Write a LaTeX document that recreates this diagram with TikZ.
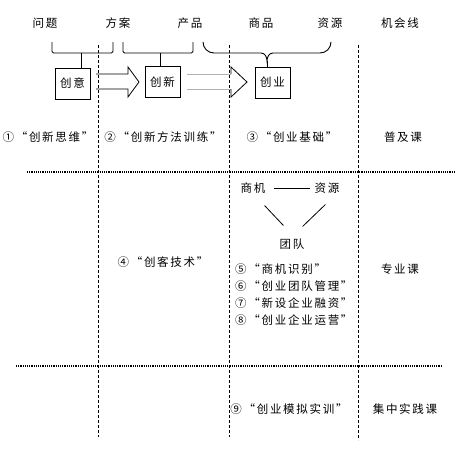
\documentclass[tikz,border=0pt]{standalone}
\usepackage{fontspec}
\newfontfamily\cjk[LetterSpace=15]{Noto Sans CJK SC}
\usetikzlibrary{positioning}

\begin{document}
\begin{tikzpicture}[
        x=1pt, y=-1pt,
        every node/.style={font=\cjk\fontsize{11.5}{13}\selectfont, inner sep=1pt},
        box/.style={draw, line width=0.8pt, minimum width=35pt, minimum height=31pt, inner sep=0pt},
        item/.style={anchor=north west},
        grid/.style={line width=0.9pt, dash pattern=on 3pt off 2pt},
        sep/.style={line width=1.2pt, dash pattern=on 1.2pt off 1pt},
        brace/.style={line width=0.9pt},
        blockarrow/.style={line width=0.8pt}
    ]
    \useasboundingbox (0,0) rectangle (456,453);

    % opportunity line
    \node (wenti) at (45,23) {问题};
    \node (fangan) at (118,23) {方案};
    \node (chanpin) at (190,23) {产品};
    \node (shangpin) at (261,23) {商品};
    \node (ziyuan) at (330,23) {资源};
    \node (jihui) at (400,23) {机会线};

    % grid
    \draw[grid] (98,45) -- (98,437);
    \draw[grid] (229,45) -- (229,437);
    \draw[grid] (358,45) -- (358,440);
    \draw[sep] (27,172) -- (456,172);
    \draw[sep] (16,366) -- (442,366);

    % stages
    \node[box] (chuangyi) at (72.5,83.5) {创意};
    \node[box] (chuangxin) at (162.5,82) {创新};
    \node[box] (chuangye) at (272.5,82.5) {创业};

    \coordinate (tick1) at (81,53);
    \coordinate (tick2) at (160,53);
    \coordinate (tick3) at (267,61);
    \draw[brace, rounded corners=1.5pt] (52,42) -- (52,53) -- (113,53) -- (113,42);
    \draw[brace, rounded corners=1.5pt] (123,42) -- (123,53) -- (193,53) -- (193,42);
    \draw[brace] (203,42) to[out=-90,in=180] (214,53) -- (261,53) to[out=0,in=90] (tick3)
        to[out=90,in=180] (273,53) -- (320,53) to[out=0,in=-90] (331,42);
    \draw[brace] (tick1) -- (tick1 |- chuangyi.north);
    \draw[brace] (tick2) -- (tick2 |- chuangxin.north);
    \draw[brace] (tick3) -- (tick3 |- chuangye.north);

    \draw[blockarrow] (96,74) -- (128,74) -- (128,67) -- (139,82) -- (128,97) -- (128,89) -- (96,89);
    \draw[blockarrow, gray!60] (187,74) -- (231,74) (231,89) -- (187,89);
    \draw[blockarrow] (231,74) -- (231,67) -- (247,82) -- (231,97) -- (231,89);

    % courses
    \node (c1) at (48,137) {①“创新思维”};
    \node (c2) at (163,137) {②“创新方法训练”};
    \node (c3) at (292,137) {③“创业基础”};
    \node (puji) at (403,137) {普及课};

    \node (shangji) at (253,188) {商机};
    \node (ziyuan2) at (327,188) {资源};
    \node (tuandui) at (292,244) {团队};
    \draw[line width=0.8pt, shorten <=7pt, shorten >=3pt] (shangji) -- (ziyuan2);
    \draw[line width=0.8pt] ([shift={(-2,11)}]shangji.south east) -- ([shift={(5,-12)}]tuandui.north west);
    \draw[line width=0.8pt] ([shift={(12,10)}]ziyuan2.south west) -- ([shift={(-3,-11)}]tuandui.north east);

    \node (c4) at (163,262) {④“创客技术”};
    \node[anchor=west] (c5) at (234,269) {⑤“商机识别”};
    \node[below=4pt of c5.south west, item] (c6) {⑥“创业团队管理”};
    \node[below=4pt of c6.south west, item] (c7) {⑦“新设企业融资”};
    \node[below=4pt of c7.south west, item] (c8) {⑧“创业企业运营”};
    \node (zhuanye) at (400,269) {专业课};

    \node (c9) at (289,409) {⑨“创业模拟实训”};
    \node (jizhong) at (405,409) {集中实践课};
\end{tikzpicture}
\end{document}
